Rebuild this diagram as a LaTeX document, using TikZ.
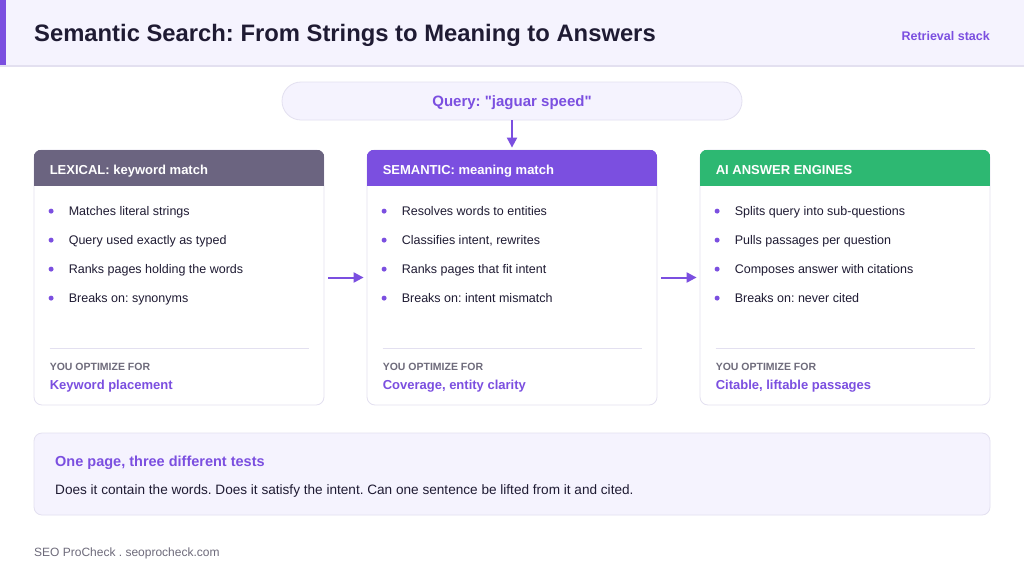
\documentclass[tikz,border=0pt]{standalone}
\usepackage{fontspec}
\setmainfont{Liberation Sans}[Ligatures=TeXOff]
\usepackage{xcolor}
\usetikzlibrary{positioning, arrows.meta}
\definecolor{brand}{HTML}{7B4FE0}
\definecolor{ink}{HTML}{1F1B33}
\definecolor{paper}{HTML}{F5F3FE}
\definecolor{hairline}{HTML}{E3E0F0}
\definecolor{muted}{HTML}{6E6B7B}
\definecolor{lexgray}{HTML}{6B6480}
\definecolor{aigreen}{HTML}{2DB872}
\tikzset{
    card/.style={rectangle, rounded corners=8pt, draw=hairline, line width=0.8pt, fill=white, minimum width=290pt, minimum height=255pt},
    pill/.style={rectangle, rounded corners=19pt, draw=hairline, line width=0.8pt, fill=paper, minimum width=460pt, minimum height=38pt},
    notebox/.style={rectangle, rounded corners=8pt, draw=hairline, line width=0.8pt, fill=paper, minimum width=956pt, minimum height=82pt},
    label/.style={anchor=base west, inner sep=0pt},
    cardtitle/.style={label, text=white, font=\fontsize{13}{15}\selectfont\bfseries},
    bullet/.style={label, text=ink, font=\fontsize{12.5}{15}\selectfont},
    dot/.style={circle, fill=brand, inner sep=0pt, minimum size=5pt},
    optlabel/.style={label, text=muted, font=\fontsize{10.5}{12}\selectfont\bfseries},
    optvalue/.style={label, text=brand, font=\fontsize{13}{15}\selectfont\bfseries},
    sepline/.style={draw=hairline, line width=1.2pt},
    arrow/.style={line width=2pt, brand, -{Triangle[length=10pt,width=10pt]}}
}

\begin{document}
\frenchspacing
\begin{tikzpicture}[x=1pt, y=-1pt]
    \useasboundingbox (0,0) rectangle (1024,576);
    \fill[white] (0,0) rectangle (1024,576);

    % header band
    \fill[paper] (0,0) rectangle (1024,66);
    \fill[brand] (0,0) rectangle (6,66);
    \draw[hairline, line width=1.5pt] (0,66) -- (1024,66);
    \node (title) [label, text=ink, font=\fontsize{23.8}{28}\selectfont\bfseries] at (34,41.5) {Semantic Search: From Strings to Meaning to Answers};
    \node (stack) [label, anchor=base east, text=brand, font=\fontsize{12.5}{15}\selectfont\bfseries] at (990,40.5) {Retrieval stack};

    \node (query) [pill] at (512,101) {};
    \node (querytext) [label, anchor=base, text=brand, font=\fontsize{15}{18}\selectfont\bfseries] at (512,106.4) {Query: "jaguar speed"};

    % lexical
    \node (lex) [card] at (179,277.5) {};
    \begin{scope}
        \clip[rounded corners=8pt] (lex.south west) rectangle (lex.north east);
        \fill[lexgray] (lex.north west) rectangle ([yshift=-36pt]lex.north east);
    \end{scope}
    \node (lextitle) [cardtitle] at ([xshift=16pt, yshift=-24.7pt]lex.north west) {LEXICAL: keyword match};
    \foreach \t [count=\i] in {Matches literal strings, Query used exactly as typed, Ranks pages holding the words, Breaks on: synonyms} {
        \node (lexd\i) [dot] at ([xshift=17.5pt, yshift={-(32.5+29*\i)*1pt}]lex.north west) {};
        \node (lexb\i) [bullet] at ([xshift=35pt, yshift={-(36.5+29*\i)*1pt}]lex.north west) {\t};
    }
    \draw[sepline] ([xshift=16pt, yshift=-199pt]lex.north west) -- ([xshift=-15pt, yshift=-199pt]lex.north east);
    \node (lexopt) [optlabel] at ([xshift=16pt, yshift=-220.5pt]lex.north west) {YOU OPTIMIZE FOR};
    \node (lexval) [optvalue] at ([xshift=16pt, yshift=-239.5pt]lex.north west) {Keyword placement};

    % semantic
    \node (sem) [card] at (512,277.5) {};
    \begin{scope}
        \clip[rounded corners=8pt] (sem.south west) rectangle (sem.north east);
        \fill[brand] (sem.north west) rectangle ([yshift=-36pt]sem.north east);
    \end{scope}
    \node (semtitle) [cardtitle] at ([xshift=16pt, yshift=-24.7pt]sem.north west) {SEMANTIC: meaning match};
    \foreach \t [count=\i] in {Resolves words to entities, {Classifies intent, rewrites}, Ranks pages that fit intent, Breaks on: intent mismatch} {
        \node (semd\i) [dot] at ([xshift=17.5pt, yshift={-(32.5+29*\i)*1pt}]sem.north west) {};
        \node (semb\i) [bullet] at ([xshift=35pt, yshift={-(36.5+29*\i)*1pt}]sem.north west) {\t};
    }
    \draw[sepline] ([xshift=16pt, yshift=-199pt]sem.north west) -- ([xshift=-15pt, yshift=-199pt]sem.north east);
    \node (semopt) [optlabel] at ([xshift=16pt, yshift=-220.5pt]sem.north west) {YOU OPTIMIZE FOR};
    \node (semval) [optvalue] at ([xshift=16pt, yshift=-239.5pt]sem.north west) {Coverage, entity clarity};

    % answer engines
    \node (ai) [card] at (845,277.5) {};
    \begin{scope}
        \clip[rounded corners=8pt] (ai.south west) rectangle (ai.north east);
        \fill[aigreen] (ai.north west) rectangle ([yshift=-36pt]ai.north east);
    \end{scope}
    \node (aititle) [cardtitle] at ([xshift=16pt, yshift=-24.7pt]ai.north west) {AI ANSWER ENGINES};
    \foreach \t [count=\i] in {Splits query into sub-questions, Pulls passages per question, Composes answer with citations, Breaks on: never cited} {
        \node (aid\i) [dot] at ([xshift=17.5pt, yshift={-(32.5+29*\i)*1pt}]ai.north west) {};
        \node (aib\i) [bullet] at ([xshift=35pt, yshift={-(36.5+29*\i)*1pt}]ai.north west) {\t};
    }
    \draw[sepline] ([xshift=16pt, yshift=-199pt]ai.north west) -- ([xshift=-15pt, yshift=-199pt]ai.north east);
    \node (aiopt) [optlabel] at ([xshift=16pt, yshift=-220.5pt]ai.north west) {YOU OPTIMIZE FOR};
    \node (aival) [optvalue] at ([xshift=16pt, yshift=-239.5pt]ai.north west) {Citable, liftable passages};

    \draw [arrow, shorten >=2pt] (query) -- (sem);
    \draw [arrow, shorten <=4pt, shorten >=3pt] (lex) -- (sem);
    \draw [arrow, shorten <=4pt, shorten >=3pt] (sem) -- (ai);

    % takeaway
    \node (note) [notebox] at (512,474) {};
    \node (notetitle) [label, text=brand, font=\fontsize{14.5}{18}\selectfont\bfseries] at (55,466.2) {One page, three different tests};
    \node (notebody) [label, text=ink, font=\fontsize{13.6}{16}\selectfont] at (55,494) {Does it contain the words. Does it satisfy the intent. Can one sentence be lifted from it and cited.};

    \node (footer) [label, text=muted, font=\fontsize{12}{14}\selectfont] at (34,556) {SEO ProCheck . seoprocheck.com};
\end{tikzpicture}
\end{document}
